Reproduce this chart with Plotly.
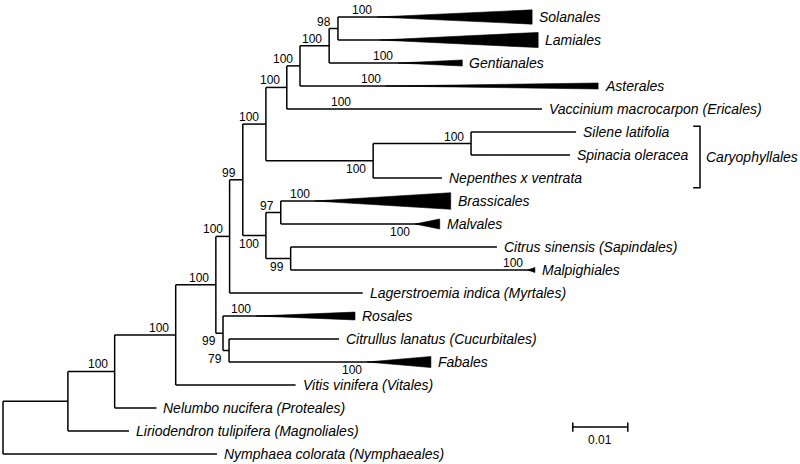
import plotly.graph_objects as go

# ---------------- tree data ----------------
# edges: child, parent, branch length (substitutions/site)
edge_child = ["A", "Nymphaea", "B", "Liriodendron", "C", "Nelumbo", "D", "Vitis",
              "E", "N", "G", "Lagerstroemia", "H", "I", "J", "Cary", "K", "Vaccinium",
              "L", "Asterales", "M", "Gentianales", "Solanales", "Lamiales",
              "P", "Nepenthes", "Silene", "Spinacia", "Q", "R", "Brassicales", "Malvales",
              "Citrus", "Malpighiales", "Rosales", "O", "Citrullus", "Fabales"]
edge_parent = ["root", "root", "A", "A", "B", "B", "C", "C",
               "D", "D", "E", "E", "G", "G", "H", "H", "J", "J",
               "K", "K", "L", "L", "M", "M",
               "Cary", "Cary", "P", "P", "I", "I", "Q", "Q",
               "R", "R", "N", "N", "O", "O"]
edge_length = [0.0118, 0.0389, 0.0085, 0.0111, 0.0111, 0.0076, 0.0073, 0.0218,
               0.0025, 0.0013, 0.0024, 0.0242, 0.0042, 0.0042, 0.0038, 0.0195, 0.0024, 0.0464,
               0.0053, 0.0542, 0.0016, 0.0242, 0.0353, 0.0364,
               0.0178, 0.0125, 0.0191, 0.0180, 0.0027, 0.0045, 0.0309, 0.0289,
               0.0375, 0.0444, 0.0240, 0.0011, 0.0200, 0.0367]

# leaves, top to bottom
leaf_order = ["Solanales", "Lamiales", "Gentianales", "Asterales", "Vaccinium",
              "Silene", "Spinacia", "Nepenthes", "Brassicales", "Malvales",
              "Citrus", "Malpighiales", "Lagerstroemia", "Rosales", "Citrullus",
              "Fabales", "Vitis", "Nelumbo", "Liriodendron", "Nymphaea"]
leaf_label = ["Solanales", "Lamiales", "Gentianales", "Asterales",
              "Vaccinium macrocarpon (Ericales)", "Silene latifolia", "Spinacia oleracea",
              "Nepenthes x ventrata", "Brassicales", "Malvales", "Citrus sinensis (Sapindales)",
              "Malpighiales", "Lagerstroemia indica (Myrtales)", "Rosales",
              "Citrullus lanatus (Cucurbitales)", "Fabales", "Vitis vinifera (Vitales)",
              "Nelumbo nucifera (Proteales)", "Liriodendron tulipifera (Magnoliales)",
              "Nymphaea colorata (Nymphaeales)"]

# bootstrap support on internal nodes
support_node = ["B", "C", "D", "E", "G", "H", "J", "K", "L", "M", "Cary", "P", "I", "Q", "R", "N", "O"]
support_value = ["100", "100", "100", "100", "99", "100", "100", "100", "100", "98",
                 "100", "100", "100", "97", "99", "99", "79"]
support_below = ["Cary", "I", "R", "N", "O"]

# collapsed clades: leaf, distance of clade node from parent, half-height (leaf units), support
clade_leaf = ["Solanales", "Lamiales", "Gentianales", "Asterales", "Vaccinium",
              "Brassicales", "Malvales", "Malpighiales", "Rosales", "Fabales"]
clade_start = [0.0071, 0.0076, 0.0125, 0.0156, 0.0125, 0.0062, 0.0244, 0.0431, 0.0060, 0.0251]
clade_half = [0.31, 0.33, 0.13, 0.13, 0.0, 0.36, 0.22, 0.11, 0.17, 0.24]
clade_support = ["100", "", "100", "100", "100", "100", "100", "100", "100", "100"]
clade_below = ["Malvales", "Fabales"]

bracket_leaves = ["Silene", "Nepenthes"]
bracket_label = "Caryophyllales"
scale_length = 0.01
scale_text = "0.01"

# ---------------- layout of tree ----------------
parent = dict(zip(edge_child, edge_parent))
blen = dict(zip(edge_child, edge_length))
children = {}
for c, p in zip(edge_child, edge_parent):
    children.setdefault(p, []).append(c)

X = {"root": 0.0}
def set_x(n):
    for c in children.get(n, []):
        X[c] = X[n] + blen[c]
        set_x(c)
set_x("root")

Y = {n: i for i, n in enumerate(leaf_order)}
def set_y(n):
    if n in Y:
        return Y[n]
    ys = [set_y(c) for c in children[n]]
    Y[n] = (min(ys) + max(ys)) / 2
    return Y[n]
set_y("root")

lx, ly = [], []
for c in edge_child:
    p = parent[c]
    lx += [X[p], X[c], None]
    ly += [Y[c], Y[c], None]
for n, ch in children.items():
    ys = [Y[c] for c in ch]
    lx += [X[n], X[n], None]
    ly += [min(ys), max(ys), None]

fig = go.Figure()
fig.add_trace(go.Scatter(x=lx, y=ly, mode="lines", line=dict(color="black", width=1.5),
                         hoverinfo="skip", showlegend=False))

FONT = "Arial, Liberation Sans, sans-serif"
ann = []

for leaf, st, h, sup in zip(clade_leaf, clade_start, clade_half, clade_support):
    x0 = X[parent[leaf]] + st
    x1 = X[leaf]
    y0 = Y[leaf]
    if h > 0:
        fig.add_trace(go.Scatter(x=[x0, x1, x1, x0], y=[y0, y0 - h, y0 + h, y0],
                                 mode="lines", fill="toself", fillcolor="black",
                                 line=dict(color="black", width=0.6),
                                 hoverinfo="skip", showlegend=False))
    if sup:
        below = leaf in clade_below
        ann.append(dict(x=x0, y=y0, text=sup, showarrow=False, xanchor="right",
                        yanchor="top" if below else "bottom", xshift=-4, borderpad=0,
                        yshift=0 if below else -1, font=dict(size=12, family=FONT, color="black")))

for n, v in zip(support_node, support_value):
    below = n in support_below
    ann.append(dict(x=X[n], y=Y[n], text=v, showarrow=False, xanchor="right",
                    yanchor="top" if below else "bottom", xshift=-6, borderpad=0,
                    yshift=0 if below else -1, font=dict(size=12, family=FONT, color="black")))

for n, lab in zip(leaf_order, leaf_label):
    ann.append(dict(x=X[n], y=Y[n], text="<i>" + lab + "</i>", showarrow=False,
                    xanchor="left", yanchor="middle", xshift=6, borderpad=0,
                    font=dict(size=14, family=FONT, color="black")))

# Caryophyllales bracket
by0 = Y[bracket_leaves[0]] - 0.25
by1 = Y[bracket_leaves[1]] + 0.42
fig.add_shape(type="path", xref="paper", yref="y",
              path=f"M 0.8665,{by0} L 0.875,{by0} L 0.875,{by1} L 0.8665,{by1}",
              line=dict(color="black", width=1.5))
ann.append(dict(x=0.8815, xref="paper", y=(by0 + by1) / 2, text="<i>" + bracket_label + "</i>",
                showarrow=False, xanchor="left", yanchor="middle", borderpad=0,
                font=dict(size=14, family=FONT, color="black")))

# scale bar
sx0, sy = 0.1036, 17.83
fig.add_trace(go.Scatter(x=[sx0, sx0 + scale_length], y=[sy, sy], mode="lines",
                         line=dict(color="black", width=1.5), hoverinfo="skip", showlegend=False))
for sx in [sx0, sx0 + scale_length]:
    fig.add_trace(go.Scatter(x=[sx, sx], y=[sy - 0.2, sy + 0.2], mode="lines",
                             line=dict(color="black", width=1.5), hoverinfo="skip", showlegend=False))
ann.append(dict(x=sx0 + scale_length / 2, y=sy, text=scale_text, showarrow=False,
                xanchor="center", yanchor="top", yshift=-5, borderpad=0,
                font=dict(size=12, family=FONT, color="black")))

fig.update_layout(
    width=800, height=464, margin=dict(l=0, r=0, t=0, b=0),
    paper_bgcolor="white", plot_bgcolor="white",
    xaxis=dict(range=[-3 / 5500, 797 / 5500], visible=False, fixedrange=True),
    yaxis=dict(range=[(464 - 17) / 23.0, -17 / 23.0], visible=False, fixedrange=True),
    annotations=ann, showlegend=False,
)
fig.write_html("out.html", config={"displayModeBar": False},
               post_script="document.body.style.margin='0px';")
